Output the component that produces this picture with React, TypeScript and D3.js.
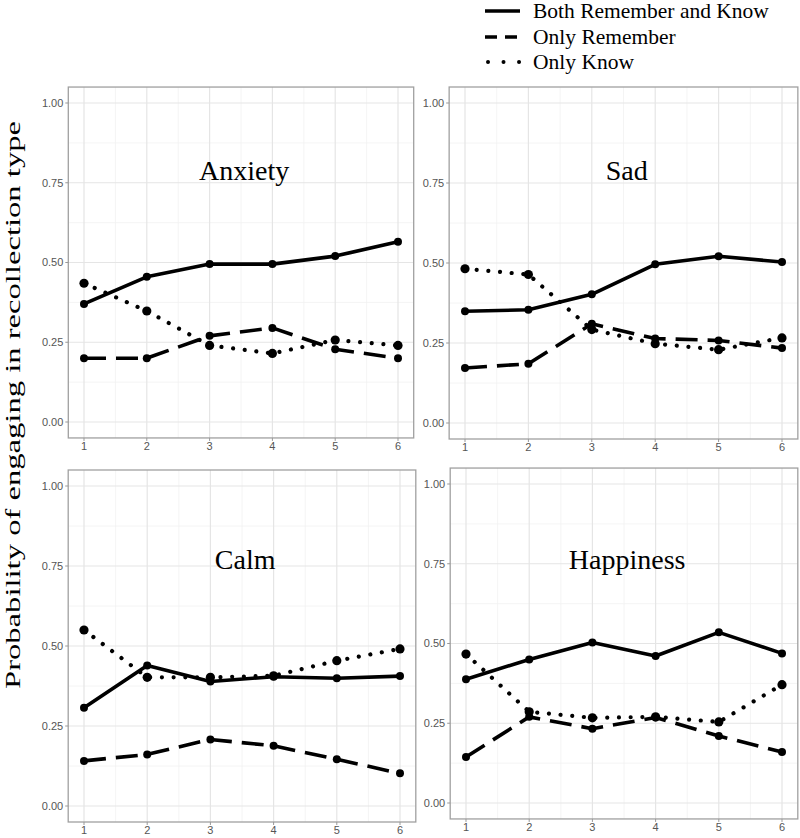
import React from "react";
import * as d3 from "d3";

// ---- data ----
const blocks = [1, 2, 3, 4, 5, 6];
const seriesNames = ["Both Remember and Know", "Only Remember", "Only Know"];
const panelNames = ["Anxiety", "Sad", "Calm", "Happiness"];
const yTicks = [0, 0.25, 0.5, 0.75, 1];
const yTickLabels = ["0.00", "0.25", "0.50", "0.75", "1.00"];
const yLabel = "Probability of engaging in recollection type";

const anxietyBoth = [0.37, 0.455, 0.495, 0.495, 0.52, 0.565];
const anxietyRemember = [0.2, 0.2, 0.27, 0.295, 0.228, 0.2];
const anxietyKnow = [0.435, 0.348, 0.24, 0.215, 0.257, 0.24];

const sadBoth = [0.349, 0.354, 0.402, 0.496, 0.521, 0.503];
const sadRemember = [0.172, 0.185, 0.31, 0.264, 0.258, 0.234];
const sadKnow = [0.482, 0.464, 0.292, 0.248, 0.229, 0.266];

const calmBoth = [0.307, 0.439, 0.389, 0.404, 0.399, 0.406];
const calmRemember = [0.141, 0.161, 0.208, 0.188, 0.146, 0.102];
const calmKnow = [0.55, 0.402, 0.402, 0.407, 0.454, 0.491];

const happyBoth = [0.388, 0.45, 0.503, 0.461, 0.535, 0.469];
const happyRemember = [0.144, 0.27, 0.233, 0.268, 0.21, 0.16];
const happyKnow = [0.467, 0.286, 0.267, 0.27, 0.254, 0.371];

const panelData = [
  [anxietyBoth, anxietyRemember, anxietyKnow],
  [sadBoth, sadRemember, sadKnow],
  [calmBoth, calmRemember, calmKnow],
  [happyBoth, happyRemember, happyKnow],
];

// ---- layout (pixel anchors of x=1, x=6, y=0, y=1 per panel) ----
const panelLayout = [
  { x1: 84, x6: 398, y0: 422, y1: 103, titleY: 0.76 },
  { x1: 465, x6: 782, y0: 423, y1: 103, titleY: 0.76 },
  { x1: 84, x6: 400, y0: 806, y1: 486, titleY: 0.74 },
  { x1: 466, x6: 782, y0: 803, y1: 484, titleY: 0.735 },
];

const serif = "'Liberation Serif', 'Times New Roman', Times, serif";
const sans = "'Liberation Sans', Arial, Helvetica, sans-serif";

const lineStyles = [
  { dash: null as string | null, cap: "butt", width: 3.6 },
  { dash: "22 10", cap: "butt", width: 3.6 },
  { dash: "0.01 11.7", cap: "round", width: 4.2 },
];
const pointR = [4, 4, 4.6];

function Panel({ idx }: { idx: number }) {
  const L = panelLayout[idx];
  const x = d3.scaleLinear().domain([1, 6]).range([L.x1, L.x6]);
  const y = d3.scaleLinear().domain([0, 1]).range([L.y0, L.y1]);
  const left = x(0.75), right = x(6.25), top = y(1.05), bottom = y(-0.05);
  const majorX = blocks;
  const minorX = blocks.slice(0, -1).map((b) => b + 0.5);
  const minorY = yTicks.slice(0, -1).map((t) => t + 0.125);
  const series = panelData[idx];
  const line = d3
    .line<number>()
    .x((_, i) => x(blocks[i]))
    .y((d) => y(d));
  return (
    <g>
      <rect x={left} y={top} width={right - left} height={bottom - top} fill="#fff" />
      {minorX.map((v) => (
        <line key={"mx" + v} x1={x(v)} x2={x(v)} y1={top} y2={bottom} stroke="#f1f1f1" strokeWidth={0.8} />
      ))}
      {minorY.map((v) => (
        <line key={"my" + v} x1={left} x2={right} y1={y(v)} y2={y(v)} stroke="#f1f1f1" strokeWidth={0.8} />
      ))}
      {majorX.map((v) => (
        <line key={"Mx" + v} x1={x(v)} x2={x(v)} y1={top} y2={bottom} stroke="#e5e5e5" strokeWidth={1.2} />
      ))}
      {yTicks.map((v) => (
        <line key={"My" + v} x1={left} x2={right} y1={y(v)} y2={y(v)} stroke="#e5e5e5" strokeWidth={1.2} />
      ))}
      {series.map((vals, s) => (
        <path
          key={"l" + s}
          d={line(vals) || ""}
          fill="none"
          stroke="#000"
          strokeWidth={lineStyles[s].width}
          strokeDasharray={lineStyles[s].dash || undefined}
          strokeLinecap={lineStyles[s].cap as any}
          strokeLinejoin="round"
        />
      ))}
      {series.map((vals, s) =>
        vals.map((v, i) => <circle key={"p" + s + "-" + i} cx={x(blocks[i])} cy={y(v)} r={pointR[s]} fill="#000" />)
      )}
      <rect x={left} y={top} width={right - left} height={bottom - top} fill="none" stroke="#a0a0a0" strokeWidth={1.3} />
      {yTicks.map((v, i) => (
        <g key={"yt" + v}>
          <line x1={left - 3} x2={left} y1={y(v)} y2={y(v)} stroke="#999" strokeWidth={1} />
          <text x={left - 5} y={y(v)} dy="0.35em" textAnchor="end" fontFamily={sans} fontSize={11} fill="#555">
            {yTickLabels[i]}
          </text>
        </g>
      ))}
      {blocks.map((b) => (
        <g key={"xt" + b}>
          <line x1={x(b)} x2={x(b)} y1={bottom} y2={bottom + 3} stroke="#999" strokeWidth={1} />
          <text x={x(b)} y={bottom + 8.5} dy="0.35em" textAnchor="middle" fontFamily={sans} fontSize={11} fill="#555">
            {b}
          </text>
        </g>
      ))}
      <text x={x(3.55)} y={y(L.titleY)} textAnchor="middle" fontFamily={serif} fontSize={28} fill="#000">
        {panelNames[idx]}
      </text>
    </g>
  );
}

export default function App() {
  const legendRows = [11, 37, 62];
  return (
    <svg width={800} height={838} style={{ position: "absolute", left: 0, top: 0, background: "#fff" }}>
      <rect width={800} height={838} fill="#fff" />
      {panelNames.map((_, i) => (
        <Panel key={i} idx={i} />
      ))}
      {seriesNames.map((n, s) => (
        <g key={"lg" + s}>
          {s === 0 && <line x1={485} x2={520} y1={legendRows[s]} y2={legendRows[s]} stroke="#000" strokeWidth={3.6} />}
          {s === 1 && (
            <line x1={485} x2={520} y1={legendRows[s]} y2={legendRows[s]} stroke="#000" strokeWidth={3.6} strokeDasharray="12 8" />
          )}
          {s === 2 && (
            <line
              x1={488}
              x2={520}
              y1={legendRows[s]}
              y2={legendRows[s]}
              stroke="#000"
              strokeWidth={4}
              strokeDasharray="0.01 15.5"
              strokeLinecap="round"
            />
          )}
          <text x={533} y={legendRows[s] + 7} fontFamily={serif} fontSize={21.5} fill="#000">
            {n}
          </text>
        </g>
      ))}
      <text
        transform="translate(20,405) rotate(-90)"
        textAnchor="middle"
        fontFamily={serif}
        fontSize={22}
        textLength={568}
        lengthAdjust="spacingAndGlyphs"
        fill="#000"
      >
        {yLabel}
      </text>
    </svg>
  );
}
